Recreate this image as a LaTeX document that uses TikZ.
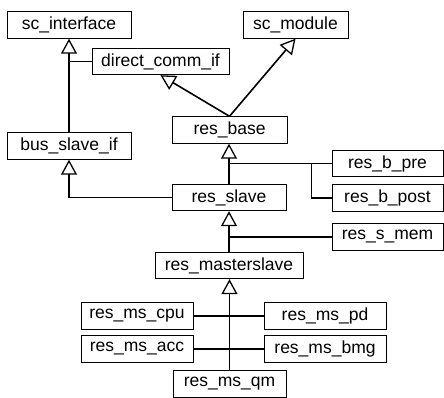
\documentclass[tikz,border=0pt]{standalone}
\usepackage{fontspec}
\setmainfont{Liberation Sans}
\usetikzlibrary{arrows.meta,calc}

\tikzset{
  cls/.style={draw, line width=0.9pt, inner sep=0pt, minimum height=26.5pt,
    font=\fontsize{17.5}{20}\selectfont},
  link/.style={line width=1.6pt},
  inh/.style={link, -{Triangle[open, length=15pt, width=16pt, line width=1.3pt]}}
}

\begin{document}
\begin{tikzpicture}[x=1pt, y=-1pt]
  \useasboundingbox (0,0) rectangle (444,398);
  % class boxes
  \node[cls, minimum width=124pt] (sc_interface) at (69,25) {sc\_interface};
  \node[cls, minimum width=105pt] (sc_module) at (295.5,25) {sc\_module};
  \node[cls, minimum width=137pt] (direct_comm_if) at (160.5,61.5) {direct\_comm\_if};
  \node[cls, minimum width=115pt] (res_base) at (229.5,130) {res\_base};
  \node[cls, minimum width=124pt] (bus_slave_if) at (69,146) {bus\_slave\_if};
  \node[cls, minimum width=111pt] (res_b_pre) at (387.5,163.5) {res\_b\_pre};
  \node[cls, minimum width=111pt] (res_b_post) at (387.5,198) {res\_b\_post};
  \node[cls, minimum width=114pt] (res_slave) at (229,197.5) {res\_slave};
  \node[cls, minimum width=111pt] (res_s_mem) at (387.5,237) {res\_s\_mem};
  \node[cls, minimum width=148pt] (res_masterslave) at (229,265.5) {res\_masterslave};
  \node[cls, minimum width=112pt] (res_ms_cpu) at (137,316) {res\_ms\_cpu};
  \node[cls, minimum width=122pt] (res_ms_pd) at (325,316) {res\_ms\_pd};
  \node[cls, minimum width=112pt] (res_ms_acc) at (137,349) {res\_ms\_acc};
  \node[cls, minimum width=122pt] (res_ms_bmg) at (325,349) {res\_ms\_bmg};
  \node[cls, minimum width=113pt] (res_ms_qm) at (229.5,384) {res\_ms\_qm};

  % inheritance
  \draw[inh] (bus_slave_if.north) -- (sc_interface.south);
  \draw[link] (direct_comm_if.west) -- (direct_comm_if.west -| sc_interface.south);
  \draw[inh] (res_base.north) -- (direct_comm_if.south);
  \draw[inh] (res_base.north) -- (sc_module.south);
  \draw[inh] (res_slave.north) -- (res_slave.north |- res_base.south);
  \draw[link] (res_b_pre.west) -- (res_b_pre.west -| res_slave.north);
  \draw[link] (res_b_post.west) -| ($(res_b_pre.west)+(-20,0)$);
  \draw[inh] (res_slave.west) -| (bus_slave_if.south);
  \draw[inh] (res_masterslave.north) -- (res_slave.south);
  \draw[link] (res_s_mem.west) -- (res_s_mem.west -| res_slave.south);
  \draw[inh] (res_ms_qm.north) -- (res_ms_qm.north |- res_masterslave.south);
  \draw[link] (res_ms_cpu.east) -- (res_ms_pd.west);
  \draw[link] (res_ms_acc.east) -- (res_ms_bmg.west);
\end{tikzpicture}
\end{document}
